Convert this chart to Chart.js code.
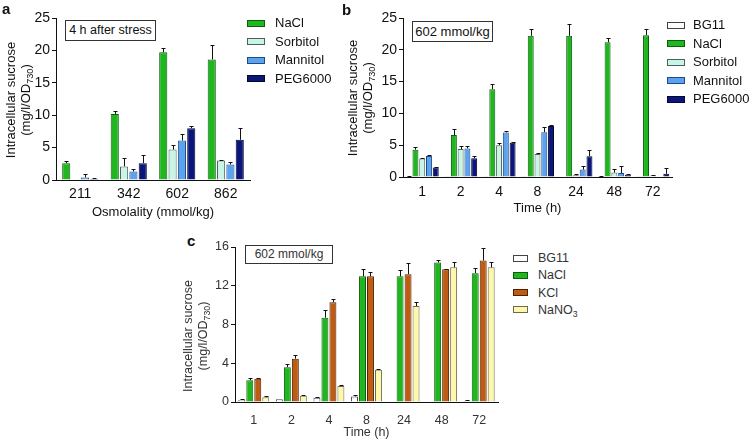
<!DOCTYPE html>
<html><head><meta charset="utf-8">
<script src="https://cdn.jsdelivr.net/npm/chart.js@4.4.1/dist/chart.umd.min.js"></script>
<style>
html,body{margin:0;padding:0;background:#fff;}
body{width:750px;height:441px;position:relative;overflow:hidden;font-family:"Liberation Sans",Arial,sans-serif;color:#111;}
canvas{position:absolute;}
.ytitle{position:absolute;width:220px;text-align:center;line-height:15px;transform:translate(-50%,-50%) rotate(-90deg);white-space:nowrap;}
.ytitle sub{font-size:70%;vertical-align:-3px;line-height:0;}
.box{position:absolute;border:1px solid #333;background:#fff;text-align:center;white-space:nowrap;box-sizing:border-box;}
.plabel{position:absolute;font-weight:bold;font-size:15px;line-height:15px;}
.sw{position:absolute;box-sizing:border-box;border:1px solid #333;}
.lt{position:absolute;white-space:nowrap;line-height:16px;}
.lt sub{font-size:70%;vertical-align:-3px;line-height:0;}
</style>
</head><body>
<canvas id="ca" width="255" height="220" style="left:0;top:0;width:255px;height:220px"></canvas>
<canvas id="cb" width="315" height="220" style="left:360px;top:0;width:315px;height:220px"></canvas>
<canvas id="cc" width="302" height="211" style="left:200px;top:230px;width:302px;height:211px"></canvas>
<div id="overlay"></div>
<script>
// ---------- Panel a data ----------
const osmolality = ['211', '342', '602', '862'];
const aNaCl       = [2.6, 10.2, 19.7, 18.6];
const aNaClErr    = [0.3, 0.5, 0.7, 2.3];
const aSorbitol   = [0, 2.1, 4.7, 3.0];
const aSorbitolErr= [0, 1.3, 0.7, 0.1];
const aMannitol   = [0.4, 1.3, 6.1, 2.4];
const aMannitolErr= [0.6, 0.35, 1.0, 0.4];
const aPEG        = [0.15, 2.6, 8.0, 6.2];
const aPEGErr     = [0.2, 1.3, 0.3, 1.9];

// ---------- Panel b data ----------
const timesB = ['1', '2', '4', '8', '24', '48', '72'];
const bBG11        = [0.1, 0.1, 0.1, 0.05, 0, 0.1, 0.1];
const bBG11Err     = [0.05, 0, 0, 0, 0, 0.05, 0];
const bNaCl        = [4.3, 6.6, 13.8, 22.2, 22.2, 21.2, 22.3];
const bNaClErr     = [0.4, 0.9, 0.8, 1.0, 1.8, 0.6, 1.0];
const bSorbitol    = [2.9, 4.4, 5.0, 3.6, 0.26, 0.7, 0.25];
const bSorbitolErr = [0.05, 0.5, 0.3, 0.1, 0.15, 0.6, 0.1];
const bMannitol    = [3.3, 4.5, 7.0, 7.05, 1.16, 0.63, 0];
const bMannitolErr = [0.2, 0.4, 0.25, 0.75, 0.6, 1.15, 0];
const bPEG         = [1.5, 2.95, 5.4, 8.0, 3.26, 0.37, 0.5];
const bPEGErr      = [0.1, 0.4, 0.1, 0.25, 1.05, 0.05, 0.95];

// ---------- Panel c data ----------
const timesC = ['1', '2', '4', '8', '24', '48', '72'];
const cBG11       = [0.24, 0.28, 0.45, 0.58, 0, 0, 0.14];
const cBG11Err    = [0.03, 0, 0.03, 0.17, 0, 0, 0.1];
const cNaCl       = [2.24, 3.6, 8.7, 12.97, 12.97, 14.4, 13.3];
const cNaClErr    = [0.28, 0.35, 0.8, 0.8, 0.7, 0.3, 0.5];
const cKCl        = [2.4, 4.47, 10.3, 12.97, 13.2, 13.7, 14.6];
const cKClErr     = [0.1, 0.35, 0.3, 0.5, 1.1, 0.05, 1.3];
const cNaNO3      = [0.5, 0.65, 1.65, 3.34, 9.9, 13.9, 13.9];
const cNaNO3Err   = [0.07, 0.1, 0.1, 0.07, 0.4, 0.6, 0.6];

// ---------- styles ----------
const FONT = '"Liberation Sans", Arial, sans-serif';
const STY = {
  BG11:     {fill:'#ffffff', line:'#444444'},
  NaCl:     {fill:'#1fb61f', line:'#0b5e0b'},
  Sorbitol: {fill:'#c9f5e6', line:'#4f5f5a'},
  Mannitol: {fill:'#5ba2ef', line:'#1f4a8a'},
  PEG6000:  {fill:'#0b157a', line:'#020830'},
  KCl:      {fill:'#bf5b12', line:'#4e2300'},
  NaNO3:    {fill:'#fff7aa', line:'#6b6b55'}
};

const errorBarPlugin = {
  id: 'errorBars',
  afterDatasetsDraw(chart) {
    const ctx = chart.ctx, ys = chart.scales.y;
    ctx.save();
    ctx.strokeStyle = '#111';
    ctx.lineWidth = 1;
    chart.data.datasets.forEach((ds, i) => {
      if (!ds.errorBars) return;
      const meta = chart.getDatasetMeta(i);
      meta.data.forEach((bar, j) => {
        const v = ds.data[j], e = ds.errorBars[j];
        if (v == null || !e) return;
        const x = Math.round(bar.x) + 0.5;
        const yTop = Math.round(ys.getPixelForValue(v + e)) + 0.5;
        const half = Math.max(1.5, Math.round(bar.width * 0.3));
        ctx.beginPath();
        ctx.moveTo(x, bar.y);
        ctx.lineTo(x, yTop);
        ctx.moveTo(x - half, yTop);
        ctx.lineTo(x + half, yTop);
        ctx.stroke();
      });
    });
    ctx.restore();
  }
};

function ds(name, data, err) {
  return {label: name, data: data, errorBars: err,
    backgroundColor: STY[name].fill, borderColor: STY[name].line, borderWidth: 1};
}

function opts(p) {
  return {
    responsive: false, animation: false, devicePixelRatio: 1,
    layout: {padding: {top: p.top, right: p.right, bottom: 0, left: 0}},
    plugins: {legend: {display: false}, tooltip: {enabled: false}},
    datasets: {bar: {categoryPercentage: p.cat, barPercentage: p.bar}},
    scales: {
      x: {
        grid: {display: false, drawTicks: false},
        border: {display: true, color: '#111', width: 1},
        ticks: {color: p.color, font: {family: FONT, size: p.tick}, padding: p.xpad, maxRotation: 0, autoSkip: false},
        title: {display: true, text: p.xtitle, color: p.color, font: {family: FONT, size: p.title}, padding: {top: 0, bottom: p.tpad}},
        afterFit(s) { s.height = p.xh; }
      },
      y: {
        min: 0, max: p.max,
        grid: {display: true, drawOnChartArea: false, drawTicks: true, tickLength: 4, color: '#111'},
        border: {display: true, color: '#111', width: 1},
        ticks: {stepSize: p.step, color: p.color, font: {family: FONT, size: p.tick}, padding: 2},
        afterFit(s) { s.width = p.yw; }
      }
    }
  };
}

new Chart(document.getElementById('ca'), {
  type: 'bar',
  data: {labels: osmolality, datasets: [
    ds('NaCl', aNaCl, aNaClErr), ds('Sorbitol', aSorbitol, aSorbitolErr),
    ds('Mannitol', aMannitol, aMannitolErr), ds('PEG6000', aPEG, aPEGErr)]},
  options: opts({top: 18, right: 5, cat: 0.77, bar: 0.87, color: '#111', tick: 14, title: 13,
    xpad: 6, tpad: 0, xh: 40, yw: 56, max: 25, step: 5, xtitle: 'Osmolality (mmol/kg)'}),
  plugins: [errorBarPlugin]
});

new Chart(document.getElementById('cb'), {
  type: 'bar',
  data: {labels: timesB, datasets: [
    ds('BG11', bBG11, bBG11Err), ds('NaCl', bNaCl, bNaClErr), ds('Sorbitol', bSorbitol, bSorbitolErr),
    ds('Mannitol', bMannitol, bMannitolErr), ds('PEG6000', bPEG, bPEGErr)]},
  options: opts({top: 18, right: 3, cat: 0.88, bar: 0.88, color: '#111', tick: 14, title: 13,
    xpad: 7, tpad: 4, xh: 43, yw: 43, max: 25, step: 5, xtitle: 'Time (h)'}),
  plugins: [errorBarPlugin]
});

new Chart(document.getElementById('cc'), {
  type: 'bar',
  data: {labels: timesC, datasets: [
    ds('BG11', cBG11, cBG11Err), ds('NaCl', cNaCl, cNaClErr),
    ds('KCl', cKCl, cKClErr), ds('NaNO3', cNaNO3, cNaNO3Err)]},
  options: opts({top: 17, right: 4, cat: 0.85, bar: 0.87, color: '#333', tick: 12.5, title: 12.5,
    xpad: 11, tpad: 1, xh: 39, yw: 35, max: 16, step: 4, xtitle: 'Time (h)'}),
  plugins: [errorBarPlugin]
});

// ---------- HTML overlays (titles, legends, notes) ----------
const ov = document.getElementById('overlay');
function el(cls, html, css) {
  const d = document.createElement('div');
  d.className = cls; d.innerHTML = html; Object.assign(d.style, css); ov.appendChild(d); return d;
}
function yTitle(cx, cy, size, color) {
  el('ytitle', 'Intracellular sucrose<br>(mg/l/OD<sub>730</sub>)',
    {left: cx + 'px', top: cy + 'px', fontSize: size + 'px', color: color});
}
function legend(names, swX, swW, swH, textX, y0, gap, size, color) {
  names.forEach((n, i) => {
    const cy = y0 + i * gap;
    el('sw', '', {left: swX + 'px', top: (cy - swH / 2) + 'px', width: swW + 'px', height: swH + 'px',
      background: STY[n].fill, borderColor: STY[n].line});
    const label = n === 'NaNO3' ? 'NaNO<sub>3</sub>' : n;
    el('lt', label, {left: textX + 'px', top: (cy - 8) + 'px', fontSize: size + 'px', color: color});
  });
}
function note(text, x, y, w, h, size, color) {
  el('box', text, {left: x + 'px', top: y + 'px', width: w + 'px', height: h + 'px',
    lineHeight: (h - 2) + 'px', fontSize: size + 'px', color: color});
}

const legendA = ['NaCl', 'Sorbitol', 'Mannitol', 'PEG6000'];
const legendB = ['BG11', 'NaCl', 'Sorbitol', 'Mannitol', 'PEG6000'];
const legendC = ['BG11', 'NaCl', 'KCl', 'NaNO3'];

el('plabel', 'a', {left: '2px', top: '1px'});
el('plabel', 'b', {left: '342px', top: '2px'});
el('plabel', 'c', {left: '187px', top: '233px'});

yTitle(18, 100, 13, '#111');
yTitle(360, 98, 13, '#111');
yTitle(196, 336, 12.5, '#333');

legend(legendA, 247, 18, 7, 275, 23, 18.5, 13, '#111');
legend(legendB, 667, 18, 7, 693, 25, 18.5, 13, '#111');
legend(legendC, 513, 15, 7, 538, 258, 17.3, 12.5, '#333');

note('4 h after stress', 65, 20, 91, 21, 12.5, '#111');
note('602 mmol/kg', 412, 21, 81, 21, 13, '#111');
note('602 mmol/kg', 245, 245, 88, 19, 12, '#333');
</script>
</body></html>
